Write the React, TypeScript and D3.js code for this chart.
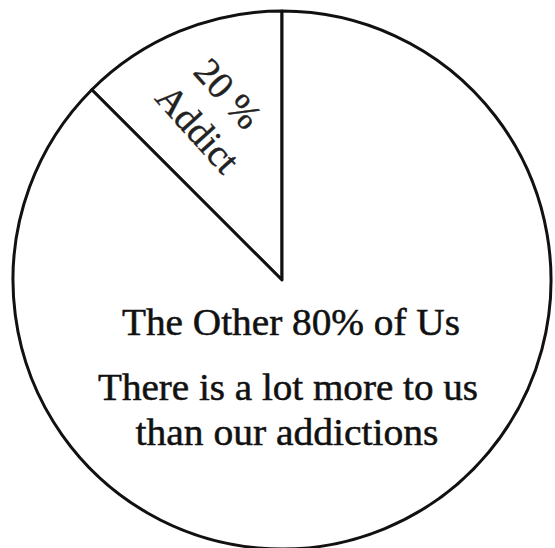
import React from "react";
import * as d3 from "d3";

// Slice labels (as printed in the chart)
const sliceNames = ["Addict", "Other"];
// Wedge shares as drawn in the picture (the small wedge spans about 45°)
const sliceShares = [12.5, 87.5];
const addictLabelLines = ["20 %", "Addict"];
const otherLabelLines = [
  "The Other 80% of Us",
  "There is a lot more to us",
  "than our addictions",
];

const W = 555;
const H = 548;
const CX = 282;
const CY = 280;
const R = 269;

export default function App() {
  const pie = d3
    .pie<number>()
    .sort(null)
    .value((d) => d)
    .startAngle(-Math.PI / 4)
    .endAngle(2 * Math.PI - Math.PI / 4);
  const arcs = pie(sliceShares);
  const arc = d3.arc<d3.PieArcDatum<number>>().innerRadius(0).outerRadius(R);
  const labelArc = d3
    .arc<d3.PieArcDatum<number>>()
    .innerRadius(364)
    .outerRadius(364);
  const [lx, ly] = labelArc.centroid(arcs[0]);

  const font = "'Liberation Serif', 'Times New Roman', serif";
  const otherLines = [
    { x: 291, y: 335, len: 338 },
    { x: 288, y: 400, len: 380 },
    { x: 287, y: 445, len: 303 },
  ];

  return (
    <svg
      width={W}
      height={H}
      style={{ position: "absolute", left: 0, top: 0, background: "#fff" }}
    >
      <rect width={W} height={H} fill="#fff" />
      <g transform={`translate(${CX},${CY})`}>
        {arcs.map((a, i) => (
          <path
            key={sliceNames[i]}
            d={arc(a) || ""}
            fill="#fff"
            stroke="#111"
            strokeWidth={3}
            strokeLinejoin="round"
          />
        ))}
        <text
          transform={`translate(${lx * 0.5},${ly * 0.5}) rotate(48)`}
          fontFamily={font}
          fontSize={38}
          fill="#222"
          stroke="#222"
          strokeWidth={0.4}
          textAnchor="middle"
        >
          <tspan x={-3} y={-11}>
            {addictLabelLines[0]}
          </tspan>
          <tspan x={3} y={35}>
            {addictLabelLines[1]}
          </tspan>
        </text>
      </g>
      {otherLabelLines.map((t, i) => (
        <text
          key={t}
          x={otherLines[i].x}
          y={otherLines[i].y}
          fontFamily={font}
          fontSize={37}
          fill="#111"
          stroke="#111"
          strokeWidth={0.5}
          textAnchor="middle"
          textLength={otherLines[i].len}
          lengthAdjust="spacingAndGlyphs"
        >
          {t}
        </text>
      ))}
    </svg>
  );
}
